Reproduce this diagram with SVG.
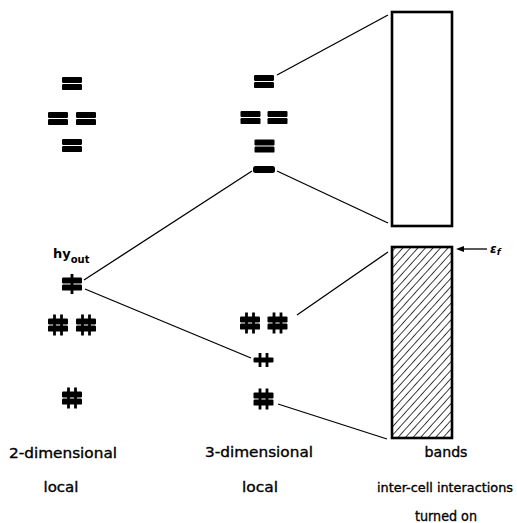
<svg xmlns="http://www.w3.org/2000/svg" width="517" height="523" viewBox="0 0 517 523">
  <style>
    .bar { fill: #000; }
    .el { stroke: #000; stroke-width: 2.8; stroke-linecap: butt; }
    .conn line { stroke: #000; stroke-width: 1.3; fill: none; }
    .box { fill: none; stroke: #000; stroke-width: 2.6; }
    .lbl { font-family: "DejaVu Sans", "Liberation Sans", sans-serif; font-size: 14.5px; fill: #000; stroke: #000; stroke-width: 0.35; text-anchor: middle; }
    .lbl.narrow { font-size: 13px; }
    .sym { font-family: "DejaVu Sans", "Liberation Sans", sans-serif; font-weight: bold; fill: #000; }
  </style>
  <defs>
    <!-- empty degenerate-pair level: two stacked bars -->
    <g id="lvEmpty">
      <rect class="bar" x="-10" y="-6.6" width="20" height="6" rx="1.2"/>
      <rect class="bar" x="-10" y="0.6" width="20" height="6" rx="1.2"/>
    </g>
    <!-- filled level: two bars, two electrons -->
    <g id="lvFull">
      <rect class="bar" x="-10" y="-6.6" width="20" height="6" rx="1.2"/>
      <rect class="bar" x="-10" y="0.6" width="20" height="6" rx="1.2"/>
      <line class="el" x1="-3.5" y1="-10.5" x2="-3.5" y2="10.5"/>
      <line class="el" x1="3.5" y1="-10.5" x2="3.5" y2="10.5"/>
    </g>
    <!-- half-filled level: two bars, one electron -->
    <g id="lvHalf">
      <rect class="bar" x="-10" y="-6.6" width="20" height="6" rx="1.2"/>
      <rect class="bar" x="-10" y="0.6" width="20" height="6" rx="1.2"/>
      <line class="el" x1="0" y1="-10" x2="0" y2="10"/>
    </g>
    <!-- single bar, two electrons -->
    <g id="lvSingleFull">
      <rect class="bar" x="-10" y="-2.4" width="20" height="4.8" rx="1"/>
      <line class="el" x1="-3.5" y1="-7" x2="-3.5" y2="7"/>
      <line class="el" x1="3.5" y1="-7" x2="3.5" y2="7"/>
    </g>
    <pattern id="hatch" patternUnits="userSpaceOnUse" width="5.6" height="5.6" patternTransform="rotate(42)">
      <line x1="0" y1="0" x2="0" y2="5.6" stroke="#000" stroke-width="1.5"/>
    </pattern>
  </defs>

  <!-- connectors -->
  <g id="connectors" class="conn">
    <line x1="277" y1="75" x2="388" y2="15"/>
    <line x1="277" y1="171" x2="388" y2="223"/>
    <line x1="84" y1="280" x2="252" y2="171"/>
    <line x1="85" y1="289" x2="251" y2="358"/>
    <line x1="297" y1="315" x2="388" y2="252"/>
    <line x1="278" y1="404" x2="387" y2="439"/>
    <line x1="462" y1="249" x2="487" y2="249" stroke-width="1.6"/>
    <polygon points="456,249 464,246 464,252" fill="#000"/>
  </g>

  <!-- 2-dimensional local levels -->
  <g id="left-col">
    <use href="#lvEmpty" x="72" y="83.5"/>
    <use href="#lvEmpty" x="58" y="118.5"/>
    <use href="#lvEmpty" x="86" y="118.5"/>
    <use href="#lvEmpty" x="72" y="145.5"/>
    <g id="hyout">
      <use href="#lvHalf" x="72" y="284"/>
      <text class="sym" x="53" y="258" font-size="13">hy<tspan font-size="10" dy="5">out</tspan></text>
    </g>
    <use href="#lvFull" x="58" y="325"/>
    <use href="#lvFull" x="86" y="325"/>
    <use href="#lvFull" x="72" y="398"/>
  </g>

  <!-- 3-dimensional local levels -->
  <g id="mid-col">
    <use href="#lvEmpty" x="264" y="81.5"/>
    <use href="#lvEmpty" x="250.5" y="117.5"/>
    <use href="#lvEmpty" x="277.5" y="117.5"/>
    <use href="#lvEmpty" x="264.5" y="146"/>
    <rect id="m4" class="bar" x="253" y="166" width="22" height="7" rx="2.5"/>
    <use href="#lvFull" x="250" y="323"/>
    <use href="#lvFull" x="277.5" y="323"/>
    <use href="#lvSingleFull" x="263.5" y="360"/>
    <use href="#lvFull" x="263.5" y="399"/>
  </g>

  <!-- bands -->
  <g id="band-empty">
    <rect class="box" x="392" y="12" width="60" height="214"/>
  </g>
  <g id="band-filled">
    <rect x="392" y="247" width="60" height="191" fill="url(#hatch)"/>
    <rect class="box" x="392" y="247" width="60" height="191"/>
  </g>
  <g id="fermi">
    <text class="sym" x="490" y="253" font-size="12" font-style="italic">ε<tspan font-size="9" dy="2">f</tspan></text>
  </g>

  <!-- labels -->
  <g id="labels">
    <text class="lbl" x="63" y="458" textLength="108" lengthAdjust="spacingAndGlyphs">2-dimensional</text>
    <text class="lbl" x="61" y="492" textLength="35" lengthAdjust="spacingAndGlyphs">local</text>
    <text class="lbl" x="259" y="457" textLength="108" lengthAdjust="spacingAndGlyphs">3-dimensional</text>
    <text class="lbl" x="260" y="492" textLength="36" lengthAdjust="spacingAndGlyphs">local</text>
    <text class="lbl" x="446" y="457" textLength="43" lengthAdjust="spacingAndGlyphs">bands</text>
    <text class="lbl narrow" x="445" y="492" textLength="136" lengthAdjust="spacingAndGlyphs">inter-cell interactions</text>
    <text class="lbl" x="446" y="521" textLength="62" lengthAdjust="spacingAndGlyphs">turned on</text>
  </g>
</svg>
